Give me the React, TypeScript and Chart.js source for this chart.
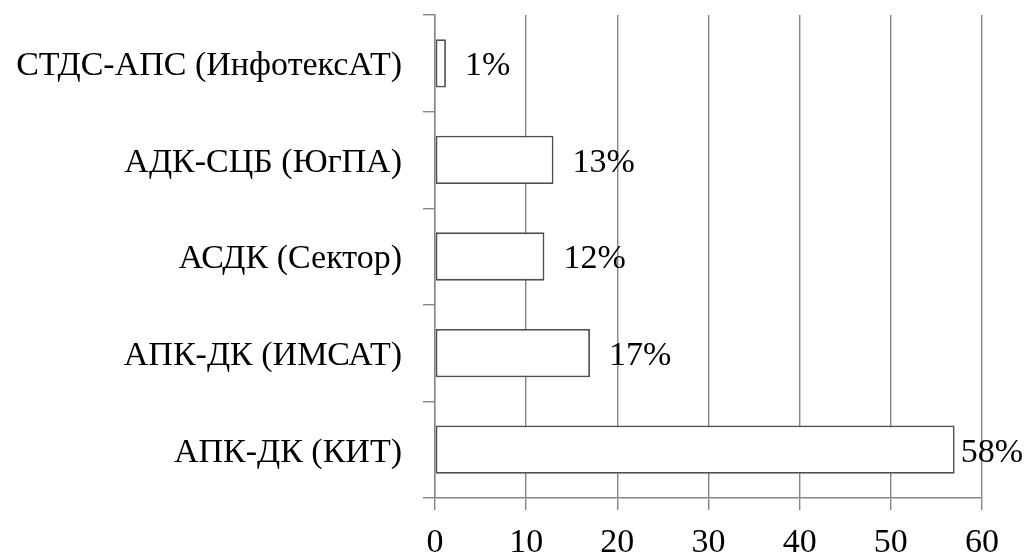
import React, { useEffect, useRef } from "react";
import { Chart, registerables } from "chart.js";

Chart.register(...registerables);

const categories = [
  "СТДС-АПС (ИнфотексАТ)",
  "АДК-СЦБ (ЮгПА)",
  "АСДК (Сектор)",
  "АПК-ДК (ИМСАТ)",
  "АПК-ДК (КИТ)",
];
const values = [1.2, 13, 12, 17, 57];
const valueLabels = ["1%", "13%", "12%", "17%", "58%"];
const xMin = 0;
const xMax = 60;
const xStep = 10;

const FONT = "'Liberation Serif', 'Times New Roman', serif";
const FONT_SIZE = 34;
const GRID = "#868686";

const valueLabelPlugin = {
  id: "valueLabels",
  afterDatasetsDraw(chart: any) {
    const ctx = chart.ctx;
    const meta = chart.getDatasetMeta(0);
    ctx.save();
    ctx.font = `${FONT_SIZE}px ${FONT}`;
    ctx.fillStyle = "#000000";
    ctx.textBaseline = "middle";
    ctx.textAlign = "left";
    meta.data.forEach((el: any, i: number) => {
      const text = valueLabels[i];
      const w = ctx.measureText(text).width;
      let x = el.x + 19;
      if (x + w > chart.width - 2) x = chart.width - 2 - w;
      ctx.fillText(text, x, el.y + 3);
    });
    ctx.restore();
  },
};

export default function App() {
  const ref = useRef<HTMLCanvasElement | null>(null);

  useEffect(() => {
    if (!ref.current) return;
    const chart = new Chart(ref.current, {
      type: "bar",
      data: {
        labels: categories,
        datasets: [
          {
            data: values,
            backgroundColor: "#ffffff",
            borderColor: "#505050",
            borderWidth: 1.8,
            borderSkipped: false,
            barPercentage: 0.5,
            categoryPercentage: 1,
          },
        ],
      },
      options: {
        indexAxis: "y",
        responsive: false,
        animation: false,
        layout: { padding: { top: 15, right: 43, left: 0, bottom: 0 } },
        plugins: {
          legend: { display: false },
          tooltip: { enabled: false },
        },
        scales: {
          x: {
            min: xMin,
            max: xMax,
            ticks: {
              stepSize: xStep,
              color: "#000000",
              font: { family: FONT, size: FONT_SIZE },
              padding: 13,
            },
            grid: {
              color: GRID,
              lineWidth: 1.4,
              drawTicks: true,
              tickLength: 12,
            },
            border: { display: true, color: GRID, width: 1.4 },
            afterFit(scale: any) {
              scale.height = 55;
              scale.paddingLeft = 0;
              scale.paddingRight = 0;
            },
          },
          y: {
            ticks: {
              color: "#000000",
              font: { family: FONT, size: FONT_SIZE },
              padding: 21,
              labelOffset: 3,
            },
            grid: {
              drawOnChartArea: false,
              drawTicks: true,
              tickLength: 12,
              color: GRID,
              lineWidth: 1.4,
              offset: true,
            },
            border: { display: true, color: GRID, width: 1.4 },
            afterFit(scale: any) {
              scale.width = 435;
              scale.paddingTop = 0;
              scale.paddingBottom = 0;
            },
          },
        },
      },
      plugins: [valueLabelPlugin],
    } as any);
    return () => chart.destroy();
  }, []);

  return (
    <div style={{ position: "fixed", left: 0, top: 0, width: 1025, height: 553, background: "#ffffff" }}>
      <canvas ref={ref} width={1025} height={553} style={{ display: "block" }} />
    </div>
  );
}
